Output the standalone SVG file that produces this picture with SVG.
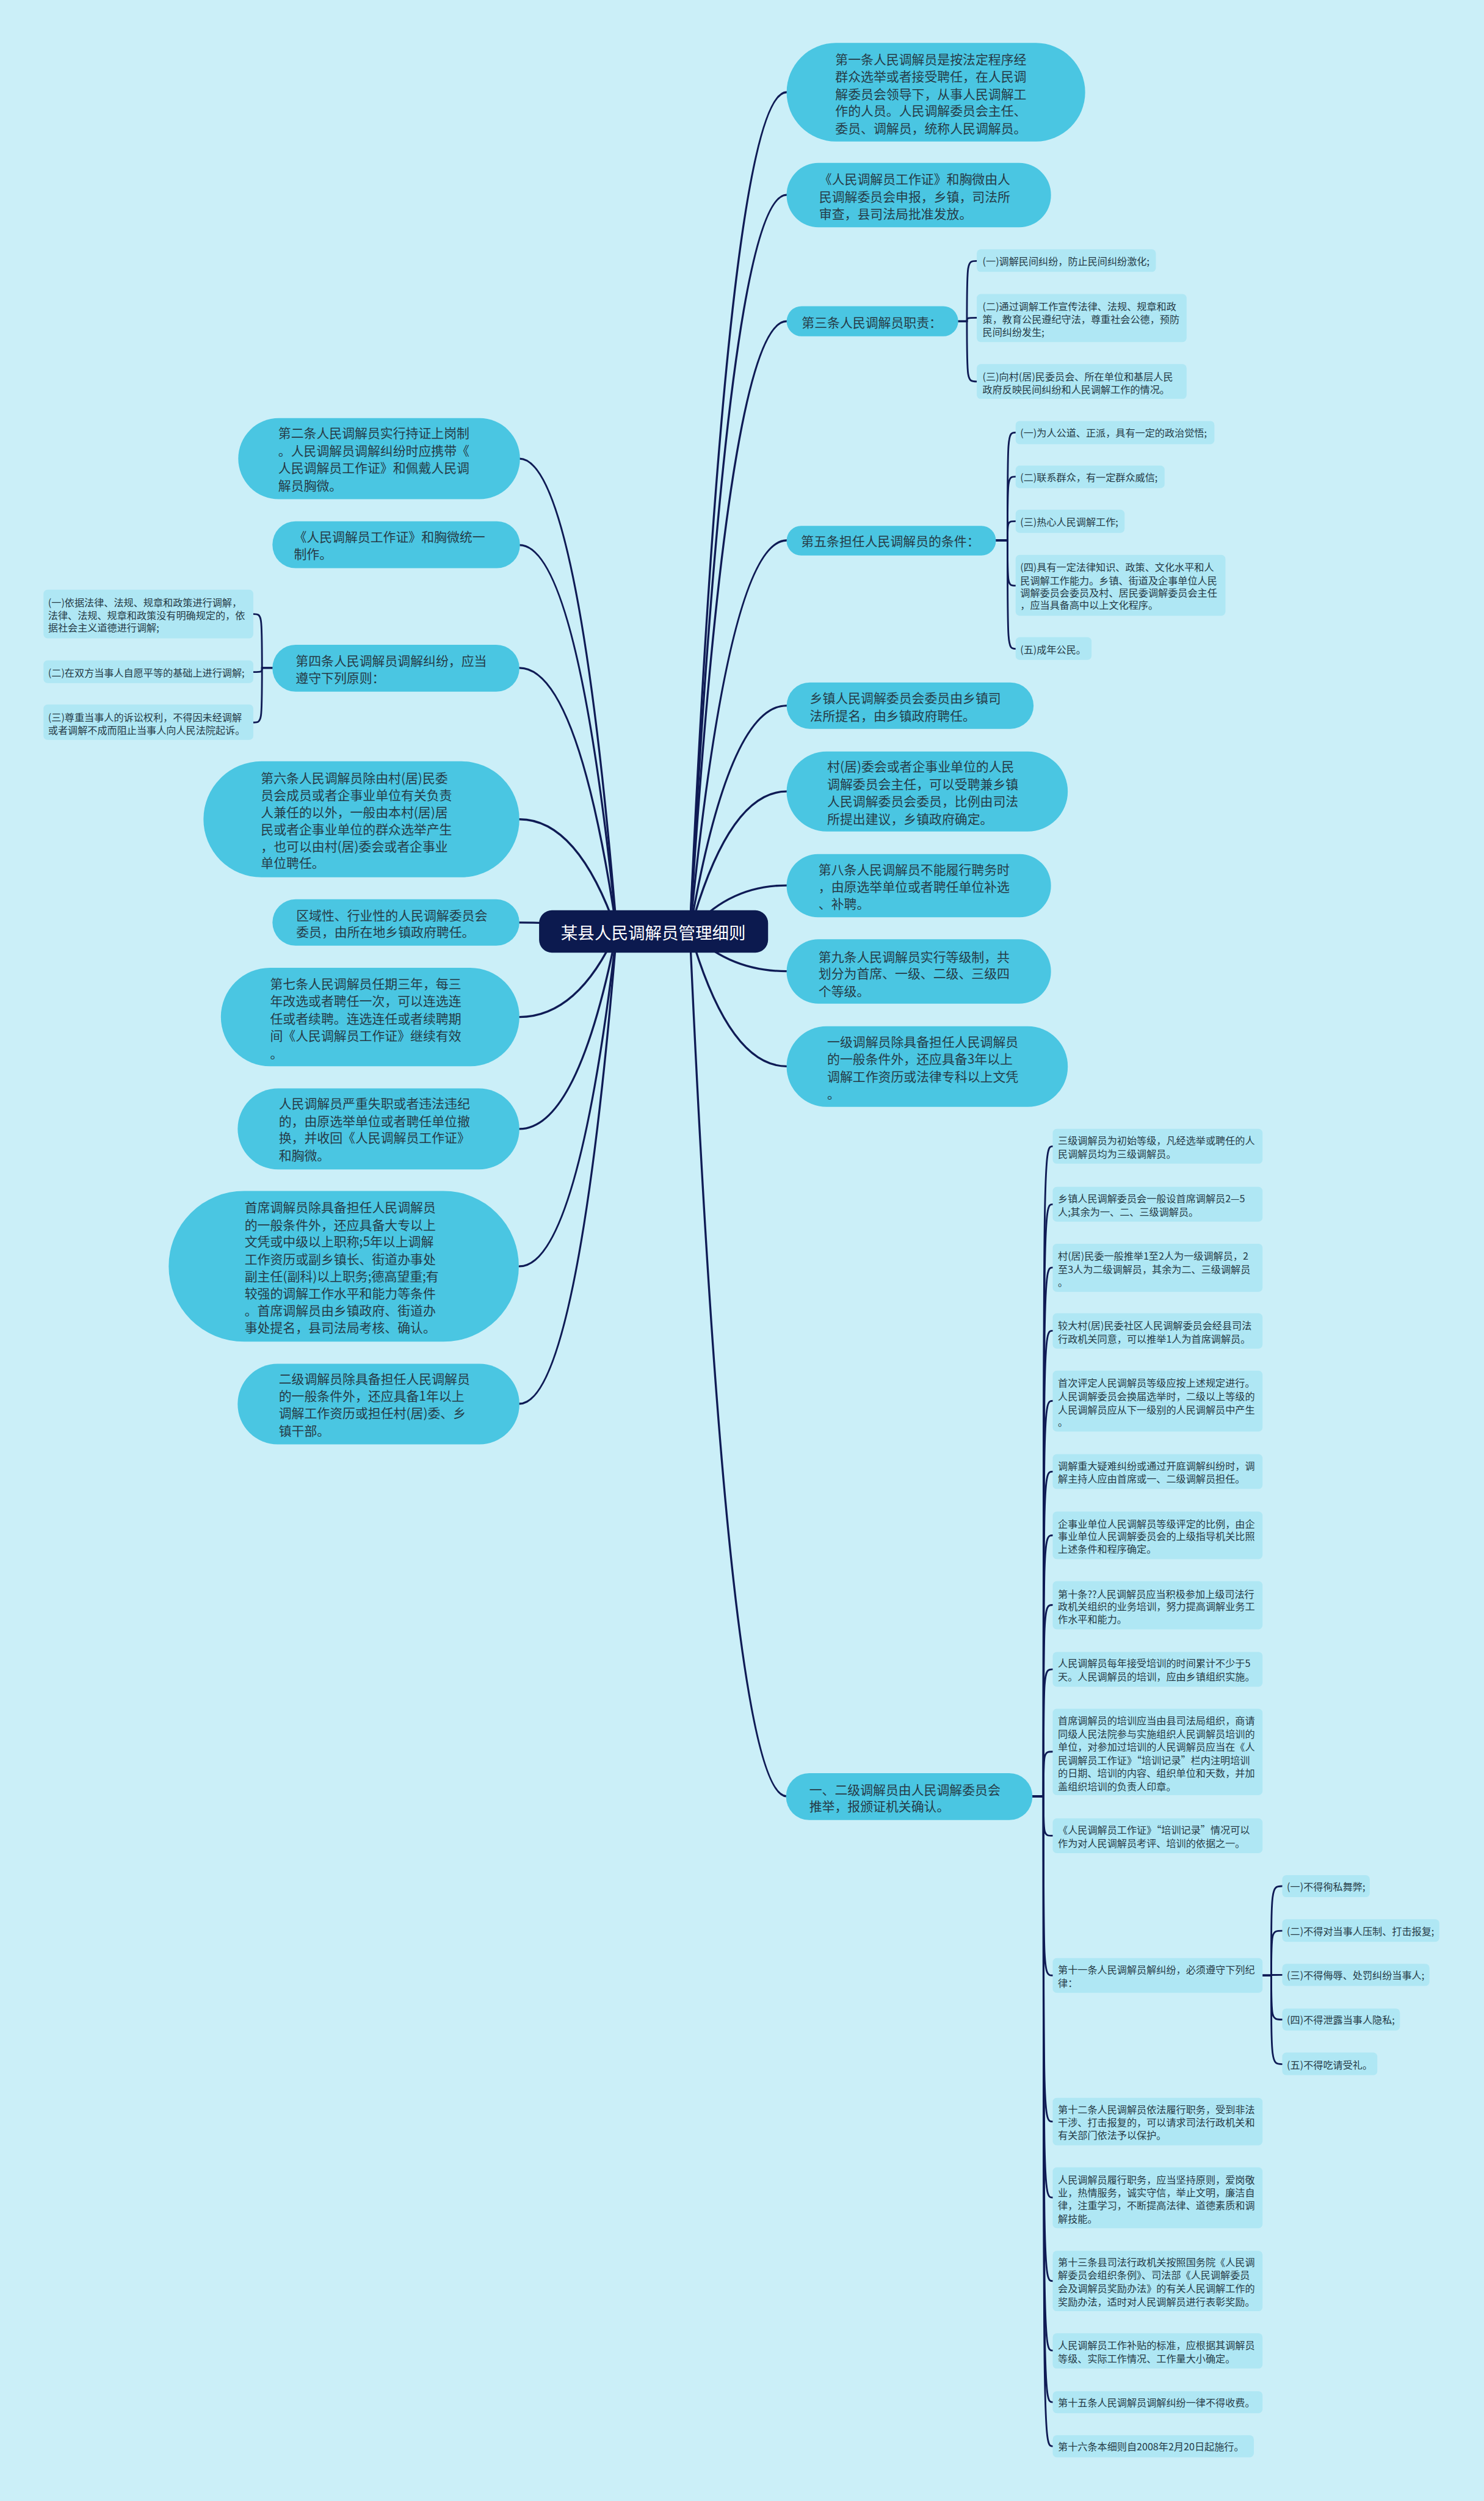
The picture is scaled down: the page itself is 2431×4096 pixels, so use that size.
<svg xmlns="http://www.w3.org/2000/svg" width="2431" height="4096" viewBox="0 0 2431 4096">
<style>
.m rect{fill:#4ac6e2}
.l rect{fill:#afe7f4}
text{font-family:"Noto Sans CJK SC","Noto Sans CJK JP",sans-serif;fill:#263b47;dominant-baseline:central}
.m text{font-size:22px}
.l text{font-size:17px}
#n-center rect{fill:#0c1a4f}
#n-center text{fill:#ffffff;font-size:29px;text-anchor:middle}
#connectors path{fill:none;stroke:#0f1b55;stroke-width:3.5;stroke-linecap:round}
#connectors .b{stroke-width:3}
</style>
<rect x="0" y="0" width="2431" height="4096" fill="#cbeff8"/>
<g transform="scale(0.9496)">
<g id="connectors">
<path d="M1190 1606 Q1257 159 1357 159"/>
<path d="M1190 1606 Q1257 336 1357 336"/>
<path d="M1190 1606 Q1257 554 1357 554"/>
<path d="M1190 1606 Q1257 932 1357 932"/>
<path d="M1190 1606 Q1257 1217 1357 1217"/>
<path d="M1190 1606 Q1257 1365 1357 1365"/>
<path d="M1190 1606 Q1257 1527 1357 1527"/>
<path d="M1190 1606 Q1257 1675 1357 1675"/>
<path d="M1190 1606 Q1257 1839 1357 1839"/>
<path d="M1190 1606 Q1257 3098 1357 3098"/>
<path d="M1064 1606 Q997 791 896 791"/>
<path d="M1064 1606 Q997 940 896 940"/>
<path d="M1064 1606 Q997 1152 896 1152"/>
<path d="M1064 1606 Q997 1413 896 1413"/>
<path d="M1064 1606 Q997 1591 896 1591"/>
<path d="M1064 1606 Q997 1754 896 1754"/>
<path d="M1064 1606 Q997 1947 896 1947"/>
<path d="M1064 1606 Q997 2184 896 2184"/>
<path d="M1064 1606 Q997 2421 896 2421"/>
<path class="b" d="M1653 554 H1668 C1668 450 1668 450 1685 450"/>
<path class="b" d="M1653 554 H1668 C1668 548 1668 548 1685 548"/>
<path class="b" d="M1653 554 H1668 C1668 658 1668 658 1685 658"/>
<path class="b" d="M1718 932 H1738 C1738 746 1738 746 1752 746"/>
<path class="b" d="M1718 932 H1738 C1738 822 1738 822 1752 822"/>
<path class="b" d="M1718 932 H1738 C1738 899 1738 899 1752 899"/>
<path class="b" d="M1718 932 H1738 C1738 1010 1738 1010 1752 1010"/>
<path class="b" d="M1718 932 H1738 C1738 1119 1738 1119 1752 1119"/>
<path class="b" d="M470 1152 H452 C452 1059 452 1059 437 1059"/>
<path class="b" d="M470 1152 H452 C452 1159 452 1159 437 1159"/>
<path class="b" d="M470 1152 H452 C452 1246 452 1246 437 1246"/>
<path class="b" d="M1781 3098 H1800 C1800 1977 1800 1977 1816 1977"/>
<path class="b" d="M1781 3098 H1800 C1800 2077 1800 2077 1816 2077"/>
<path class="b" d="M1781 3098 H1800 C1800 2186 1800 2186 1816 2186"/>
<path class="b" d="M1781 3098 H1800 C1800 2295 1800 2295 1816 2295"/>
<path class="b" d="M1781 3098 H1800 C1800 2416 1800 2416 1816 2416"/>
<path class="b" d="M1781 3098 H1800 C1800 2538 1800 2538 1816 2538"/>
<path class="b" d="M1781 3098 H1800 C1800 2648 1800 2648 1816 2648"/>
<path class="b" d="M1781 3098 H1800 C1800 2768 1800 2768 1816 2768"/>
<path class="b" d="M1781 3098 H1800 C1800 2879 1800 2879 1816 2879"/>
<path class="b" d="M1781 3098 H1800 C1800 3021 1800 3021 1816 3021"/>
<path class="b" d="M1781 3098 H1800 C1800 3166 1800 3166 1816 3166"/>
<path class="b" d="M1781 3098 H1800 C1800 3407 1800 3407 1816 3407"/>
<path class="b" d="M1781 3098 H1800 C1800 3659 1800 3659 1816 3659"/>
<path class="b" d="M1781 3098 H1800 C1800 3790 1800 3790 1816 3790"/>
<path class="b" d="M1781 3098 H1800 C1800 3934 1800 3934 1816 3934"/>
<path class="b" d="M1781 3098 H1800 C1800 4054 1800 4054 1816 4054"/>
<path class="b" d="M1781 3098 H1800 C1800 4143 1800 4143 1816 4143"/>
<path class="b" d="M1781 3098 H1800 C1800 4219 1800 4219 1816 4219"/>
<path class="b" d="M2178 3407 H2193 C2193 3253 2193 3253 2212 3253"/>
<path class="b" d="M2178 3407 H2193 C2193 3330 2193 3330 2212 3330"/>
<path class="b" d="M2178 3407 H2193 C2193 3406 2193 3406 2212 3406"/>
<path class="b" d="M2178 3407 H2193 C2193 3483 2193 3483 2212 3483"/>
<path class="b" d="M2178 3407 H2193 C2193 3560 2193 3560 2212 3560"/>
</g>
<g id="n-center"><rect x="930" y="1570" width="395" height="73" rx="22"/><text x="1127" y="1607">某县人民调解员管理细则</text></g>

<g id="n1" class="m"><rect x="1357" y="74" width="515" height="170" rx="85"/><text><tspan x="1441" y="101">第一条人民调解员是按法定程序经</tspan><tspan x="1441" y="131">群众选举或者接受聘任，在人民调</tspan><tspan x="1441" y="161">解委员会领导下，从事人民调解工</tspan><tspan x="1441" y="190">作的人员。人民调解委员会主任、</tspan><tspan x="1441" y="220">委员、调解员，统称人民调解员。</tspan></text></g>
<g id="n2" class="m"><rect x="1357" y="281" width="456" height="111" rx="55"/><text><tspan x="1413" y="308">《人民调解员工作证》和胸微由人</tspan><tspan x="1413" y="338">民调解委员会申报，乡镇，司法所</tspan><tspan x="1413" y="367">审查，县司法局批准发放。</tspan></text></g>
<g id="n3" class="m"><rect x="1357" y="528" width="296" height="52" rx="26"/><text x="1383" y="555">第三条人民调解员职责：</text></g>
<g id="n3-1" class="l"><rect x="1685" y="430" width="309" height="39" rx="7"/><text x="1695" y="450">(一)调解民间纠纷，防止民间纠纷激化;</text></g>
<g id="n3-2" class="l"><rect x="1685" y="507" width="362" height="83" rx="7"/><text><tspan x="1695" y="528">(二)通过调解工作宣传法律、法规、规章和政</tspan><tspan x="1695" y="550">策，教育公民遵纪守法，尊重社会公德，预防</tspan><tspan x="1695" y="572">民间纠纷发生;</tspan></text></g>
<g id="n3-3" class="l"><rect x="1685" y="628" width="362" height="60" rx="7"/><text><tspan x="1695" y="649">(三)向村(居)民委员会、所在单位和基层人民</tspan><tspan x="1695" y="671">政府反映民间纠纷和人民调解工作的情况。</tspan></text></g>

<g id="n5" class="m"><rect x="1357" y="907" width="361" height="51" rx="25"/><text x="1382" y="932">第五条担任人民调解员的条件：</text></g>
<g id="n5-1" class="l"><rect x="1752" y="726" width="343" height="40" rx="7"/><text x="1760" y="746">(一)为人公道、正派，具有一定的政治觉悟;</text></g>
<g id="n5-2" class="l"><rect x="1752" y="803" width="257" height="39" rx="7"/><text x="1760" y="822">(二)联系群众，有一定群众威信;</text></g>
<g id="n5-3" class="l"><rect x="1752" y="879" width="188" height="40" rx="7"/><text x="1760" y="899">(三)热心人民调解工作;</text></g>
<g id="n5-4" class="l"><rect x="1752" y="957" width="362" height="105" rx="7"/><text><tspan x="1760" y="977">(四)具有一定法律知识、政策、文化水平和人</tspan><tspan x="1760" y="1000">民调解工作能力。乡镇、街道及企事单位人民</tspan><tspan x="1760" y="1022">调解委员会委员及村、居民委调解委员会主任</tspan><tspan x="1760" y="1043">，应当具备高中以上文化程序。</tspan></text></g>
<g id="n5-5" class="l"><rect x="1752" y="1099" width="131" height="39" rx="7"/><text x="1760" y="1119">(五)成年公民。</text></g>

<g id="r6" class="m"><rect x="1357" y="1177" width="426" height="80" rx="40"/><text><tspan x="1397" y="1203">乡镇人民调解委员会委员由乡镇司</tspan><tspan x="1397" y="1233">法所提名，由乡镇政府聘任。</tspan></text></g>
<g id="r7" class="m"><rect x="1357" y="1296" width="485" height="138" rx="69"/><text><tspan x="1427" y="1321">村(居)委会或者企事业单位的人民</tspan><tspan x="1427" y="1351">调解委员会主任，可以受聘兼乡镇</tspan><tspan x="1427" y="1381">人民调解委员会委员，比例由司法</tspan><tspan x="1427" y="1411">所提出建议，乡镇政府确定。</tspan></text></g>
<g id="r8" class="m"><rect x="1357" y="1473" width="456" height="109" rx="54"/><text><tspan x="1412" y="1499">第八条人民调解员不能履行聘务时</tspan><tspan x="1412" y="1528">，由原选举单位或者聘任单位补选</tspan><tspan x="1412" y="1558">、补聘。</tspan></text></g>
<g id="r9" class="m"><rect x="1357" y="1620" width="456" height="111" rx="55"/><text><tspan x="1412" y="1649">第九条人民调解员实行等级制，共</tspan><tspan x="1412" y="1678">划分为首席、一级、二级、三级四</tspan><tspan x="1412" y="1708">个等级。</tspan></text></g>
<g id="r10" class="m"><rect x="1357" y="1770" width="485" height="139" rx="69"/><text><tspan x="1427" y="1795">一级调解员除具备担任人民调解员</tspan><tspan x="1427" y="1825">的一般条件外，还应具备3年以上</tspan><tspan x="1427" y="1855">调解工作资历或法律专科以上文凭</tspan><tspan x="1427" y="1885">。</tspan></text></g>

<g id="r11" class="m"><rect x="1356" y="3058" width="425" height="81" rx="40"/><text><tspan x="1396" y="3085">一、二级调解员由人民调解委员会</tspan><tspan x="1396" y="3114">推举，报颁证机关确认。</tspan></text></g>
<g id="a1" class="l"><rect x="1816" y="1947" width="362" height="60" rx="7"/><text><tspan x="1825" y="1966">三级调解员为初始等级，凡经选举或聘任的人</tspan><tspan x="1825" y="1989">民调解员均为三级调解员。</tspan></text></g>
<g id="a2" class="l"><rect x="1816" y="2047" width="362" height="60" rx="7"/><text><tspan x="1825" y="2066">乡镇人民调解委员会一般设首席调解员2—5</tspan><tspan x="1825" y="2089">人;其余为一、二、三级调解员。</tspan></text></g>
<g id="a3" class="l"><rect x="1816" y="2145" width="362" height="83" rx="7"/><text><tspan x="1825" y="2165">村(居)民委一般推举1至2人为一级调解员，2</tspan><tspan x="1825" y="2188">至3人为二级调解员，其余为二、三级调解员</tspan><tspan x="1825" y="2210">。</tspan></text></g>
<g id="a4" class="l"><rect x="1816" y="2265" width="362" height="61" rx="7"/><text><tspan x="1825" y="2285">较大村(居)民委社区人民调解委员会经县司法</tspan><tspan x="1825" y="2308">行政机关同意，可以推举1人为首席调解员。</tspan></text></g>
<g id="a5" class="l"><rect x="1816" y="2364" width="362" height="105" rx="7"/><text><tspan x="1825" y="2384">首次评定人民调解员等级应按上述规定进行。</tspan><tspan x="1825" y="2407">人民调解委员会换届选举时，二级以上等级的</tspan><tspan x="1825" y="2430">人民调解员应从下一级别的人民调解员中产生</tspan><tspan x="1825" y="2452">。</tspan></text></g>
<g id="a6" class="l"><rect x="1816" y="2508" width="362" height="60" rx="7"/><text><tspan x="1825" y="2527">调解重大疑难纠纷或通过开庭调解纠纷时，调</tspan><tspan x="1825" y="2550">解主持人应由首席或一、二级调解员担任。</tspan></text></g>
<g id="a7" class="l"><rect x="1816" y="2607" width="362" height="82" rx="7"/><text><tspan x="1825" y="2627">企事业单位人民调解员等级评定的比例，由企</tspan><tspan x="1825" y="2649">事业单位人民调解委员会的上级指导机关比照</tspan><tspan x="1825" y="2671">上述条件和程序确定。</tspan></text></g>
<g id="a8" class="l"><rect x="1816" y="2727" width="362" height="83" rx="7"/><text><tspan x="1825" y="2748">第十条??人民调解员应当积极参加上级司法行</tspan><tspan x="1825" y="2770">政机关组织的业务培训，努力提高调解业务工</tspan><tspan x="1825" y="2792">作水平和能力。</tspan></text></g>
<g id="a9" class="l"><rect x="1816" y="2849" width="362" height="60" rx="7"/><text><tspan x="1825" y="2868">人民调解员每年接受培训的时间累计不少于5</tspan><tspan x="1825" y="2891">天。人民调解员的培训，应由乡镇组织实施。</tspan></text></g>
<g id="a10" class="l"><rect x="1816" y="2947" width="362" height="149" rx="7"/><text><tspan x="1825" y="2967">首席调解员的培训应当由县司法局组织，商请</tspan><tspan x="1825" y="2990">同级人民法院参与实施组织人民调解员培训的</tspan><tspan x="1825" y="3012">单位，对参加过培训的人民调解员应当在《人</tspan><tspan x="1825" y="3035">民调解员工作证》“培训记录”栏内注明培训</tspan><tspan x="1825" y="3057">的日期、培训的内容、组织单位和天数，并加</tspan><tspan x="1825" y="3080">盖组织培训的负责人印章。</tspan></text></g>
<g id="a11" class="l"><rect x="1816" y="3136" width="362" height="60" rx="7"/><text><tspan x="1825" y="3155">《人民调解员工作证》“培训记录”情况可以</tspan><tspan x="1825" y="3178">作为对人民调解员考评、培训的依据之一。</tspan></text></g>
<g id="a12" class="l"><rect x="1816" y="3377" width="362" height="60" rx="7"/><text><tspan x="1825" y="3396">第十一条人民调解员解纠纷，必须遵守下列纪</tspan><tspan x="1825" y="3419">律：</tspan></text></g>
<g id="b1" class="l"><rect x="2212" y="3234" width="151" height="38" rx="7"/><text x="2220" y="3253">(一)不得徇私舞弊;</text></g>
<g id="b2" class="l"><rect x="2212" y="3310" width="271" height="39" rx="7"/><text x="2220" y="3330">(二)不得对当事人压制、打击报复;</text></g>
<g id="b3" class="l"><rect x="2212" y="3387" width="254" height="38" rx="7"/><text x="2220" y="3406">(三)不得侮辱、处罚纠纷当事人;</text></g>
<g id="b4" class="l"><rect x="2212" y="3464" width="203" height="38" rx="7"/><text x="2220" y="3483">(四)不得泄露当事人隐私;</text></g>
<g id="b5" class="l"><rect x="2212" y="3540" width="164" height="39" rx="7"/><text x="2220" y="3560">(五)不得吃请受礼。</text></g>
<g id="a13" class="l"><rect x="1816" y="3618" width="362" height="82" rx="7"/><text><tspan x="1825" y="3637">第十二条人民调解员依法履行职务，受到非法</tspan><tspan x="1825" y="3659">干涉、打击报复的，可以请求司法行政机关和</tspan><tspan x="1825" y="3682">有关部门依法予以保护。</tspan></text></g>
<g id="a14" class="l"><rect x="1816" y="3738" width="362" height="105" rx="7"/><text><tspan x="1825" y="3758">人民调解员履行职务，应当坚持原则，爱岗敬</tspan><tspan x="1825" y="3781">业，热情服务，诚实守信，举止文明，廉洁自</tspan><tspan x="1825" y="3803">律，注重学习，不断提高法律、道德素质和调</tspan><tspan x="1825" y="3826">解技能。</tspan></text></g>
<g id="a15" class="l"><rect x="1816" y="3882" width="362" height="104" rx="7"/><text><tspan x="1825" y="3901">第十三条县司法行政机关按照国务院《人民调</tspan><tspan x="1825" y="3923">解委员会组织条例》、司法部《人民调解委员</tspan><tspan x="1825" y="3946">会及调解员奖励办法》的有关人民调解工作的</tspan><tspan x="1825" y="3969">奖励办法，适时对人民调解员进行表彰奖励。</tspan></text></g>
<g id="a16" class="l"><rect x="1816" y="4024" width="362" height="61" rx="7"/><text><tspan x="1825" y="4044">人民调解员工作补贴的标准，应根据其调解员</tspan><tspan x="1825" y="4067">等级、实际工作情况、工作量大小确定。</tspan></text></g>
<g id="a17" class="l"><rect x="1816" y="4124" width="362" height="38" rx="7"/><text x="1825" y="4143">第十五条人民调解员调解纠纷一律不得收费。</text></g>
<g id="a18" class="l"><rect x="1816" y="4200" width="347" height="38" rx="7"/><text x="1825" y="4219">第十六条本细则自2008年2月20日起施行。</text></g>

<g id="l1" class="m"><rect x="411" y="721" width="486" height="140" rx="70"/><text><tspan x="480" y="746">第二条人民调解员实行持证上岗制</tspan><tspan x="480" y="776">。人民调解员调解纠纷时应携带《</tspan><tspan x="480" y="806">人民调解员工作证》和佩戴人民调</tspan><tspan x="480" y="836">解员胸微。</tspan></text></g>
<g id="l2" class="m"><rect x="470" y="899" width="427" height="81" rx="40"/><text><tspan x="507" y="925">《人民调解员工作证》和胸微统一</tspan><tspan x="507" y="954">制作。</tspan></text></g>
<g id="l3" class="m"><rect x="470" y="1112" width="426" height="81" rx="40"/><text><tspan x="510" y="1138">第四条人民调解员调解纠纷，应当</tspan><tspan x="510" y="1168">遵守下列原则：</tspan></text></g>
<g id="l3-1" class="l"><rect x="75" y="1017" width="362" height="84" rx="7"/><text><tspan x="83" y="1038">(一)依据法律、法规、规章和政策进行调解，</tspan><tspan x="83" y="1060">法律、法规、规章和政策没有明确规定的，依</tspan><tspan x="83" y="1082">据社会主义道德进行调解;</tspan></text></g>
<g id="l3-2" class="l"><rect x="75" y="1139" width="362" height="39" rx="7"/><text x="83" y="1159">(二)在双方当事人自愿平等的基础上进行调解;</text></g>
<g id="l3-3" class="l"><rect x="75" y="1215" width="362" height="61" rx="7"/><text><tspan x="83" y="1236">(三)尊重当事人的诉讼权利，不得因未经调解</tspan><tspan x="83" y="1258">或者调解不成而阻止当事人向人民法院起诉。</tspan></text></g>
<g id="l4" class="m"><rect x="351" y="1313" width="545" height="200" rx="100"/><text><tspan x="450" y="1341">第六条人民调解员除由村(居)民委</tspan><tspan x="450" y="1370">员会成员或者企事业单位有关负责</tspan><tspan x="450" y="1400">人兼任的以外，一般由本村(居)居</tspan><tspan x="450" y="1429">民或者企事业单位的群众选举产生</tspan><tspan x="450" y="1458">，也可以由村(居)委会或者企事业</tspan><tspan x="450" y="1487">单位聘任。</tspan></text></g>
<g id="l5" class="m"><rect x="470" y="1551" width="426" height="80" rx="40"/><text><tspan x="511" y="1578">区域性、行业性的人民调解委员会</tspan><tspan x="511" y="1606">委员，由所在地乡镇政府聘任。</tspan></text></g>
<g id="l6" class="m"><rect x="381" y="1669" width="515" height="170" rx="85"/><text><tspan x="466" y="1695">第七条人民调解员任期三年，每三</tspan><tspan x="466" y="1725">年改选或者聘任一次，可以连选连</tspan><tspan x="466" y="1755">任或者续聘。连选连任或者续聘期</tspan><tspan x="466" y="1785">间《人民调解员工作证》继续有效</tspan><tspan x="466" y="1815">。</tspan></text></g>
<g id="l7" class="m"><rect x="410" y="1877" width="486" height="140" rx="70"/><text><tspan x="481" y="1902">人民调解员严重失职或者违法违纪</tspan><tspan x="481" y="1932">的，由原选举单位或者聘任单位撤</tspan><tspan x="481" y="1961">换，并收回《人民调解员工作证》</tspan><tspan x="481" y="1991">和胸微。</tspan></text></g>
<g id="l8" class="m"><rect x="291" y="2054" width="604" height="260" rx="130"/><text><tspan x="422" y="2081">首席调解员除具备担任人民调解员</tspan><tspan x="422" y="2111">的一般条件外，还应具备大专以上</tspan><tspan x="422" y="2140">文凭或中级以上职称;5年以上调解</tspan><tspan x="422" y="2170">工作资历或副乡镇长、街道办事处</tspan><tspan x="422" y="2200">副主任(副科)以上职务;德高望重;有</tspan><tspan x="422" y="2229">较强的调解工作水平和能力等条件</tspan><tspan x="422" y="2259">。首席调解员由乡镇政府、街道办</tspan><tspan x="422" y="2288">事处提名，县司法局考核、确认。</tspan></text></g>
<g id="l9" class="m"><rect x="410" y="2352" width="486" height="139" rx="69"/><text><tspan x="481" y="2377">二级调解员除具备担任人民调解员</tspan><tspan x="481" y="2406">的一般条件外，还应具备1年以上</tspan><tspan x="481" y="2436">调解工作资历或担任村(居)委、乡</tspan><tspan x="481" y="2466">镇干部。</tspan></text></g>
</g>
</svg>
